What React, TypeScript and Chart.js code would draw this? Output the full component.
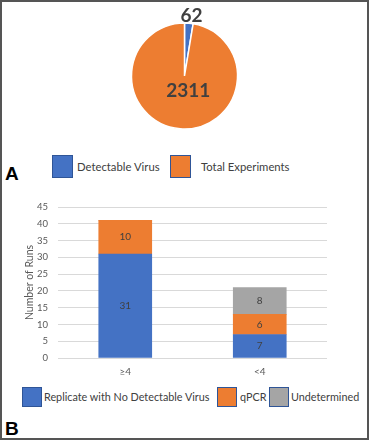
import React, { useEffect, useRef } from "react";
import { Chart, registerables } from "chart.js";

Chart.register(...registerables);

// ---- data ----
const pieLabels = ["Detectable Virus", "Total Experiments"];
const pieValues = [62, 2311];

const barCategories = ["≥4", "<4"];
const barSeriesNames = ["Replicate with No Detectable Virus", "qPCR", "Undetermined"];
const replicateValues = [31, 7];
const qpcrValues = [10, 6];
const undeterminedValues = [0, 8];
const yMin = 0;
const yMax = 45;
const yStep = 5;
const yTitle = "Number of Runs";
const panelLetters = ["A", "B"];

// ---- styles ----
const BLUE = "#4472C4";
const ORANGE = "#ED7D31";
const GRAY = "#A5A5A5";
const LEGEND_BORDER = "#2F5597";
const TEXT = "#404040";
const AXIS_TEXT = "#595959";
const FONT = "Lato, 'Open Sans', sans-serif";

const pieColors = [BLUE, ORANGE];
const barColors = [BLUE, ORANGE, GRAY];
const pieLegendLayout = [
  { box: 52, text: 77 },
  { box: 170, text: 201 },
];
const barLegendLayout = [
  { box: 22, text: 44 },
  { box: 217, text: 240 },
  { box: 269, text: 291 },
];

const pieLabelPlugin = {
  id: "pieValueLabels",
  afterDatasetsDraw(chart: any) {
    const meta = chart.getDatasetMeta(0);
    const ctx = chart.ctx;
    const radii = [60, 15];
    const dxs = [2, 5];
    ctx.save();
    ctx.font = `bold 19px ${FONT}`;
    ctx.fillStyle = TEXT;
    ctx.textAlign = "center";
    ctx.textBaseline = "middle";
    meta.data.forEach((arc: any, i: number) => {
      const p = arc.getProps(["x", "y", "startAngle", "endAngle"], true);
      const mid = (p.startAngle + p.endAngle) / 2;
      ctx.fillText(
        String(chart.data.datasets[0].data[i]),
        p.x + Math.cos(mid) * radii[i] + dxs[i],
        p.y + Math.sin(mid) * radii[i]
      );
    });
    ctx.restore();
  },
};

const barLabelPlugin = {
  id: "barValueLabels",
  afterDatasetsDraw(chart: any) {
    const ctx = chart.ctx;
    ctx.save();
    ctx.font = `10px ${FONT}`;
    ctx.fillStyle = TEXT;
    ctx.textAlign = "center";
    ctx.textBaseline = "middle";
    chart.data.datasets.forEach((ds: any, di: number) => {
      const meta = chart.getDatasetMeta(di);
      meta.data.forEach((bar: any, i: number) => {
        const v = ds.data[i];
        if (!v) return;
        const p = bar.getProps(["x", "y", "base"], true);
        ctx.fillText(String(v), p.x, (p.y + p.base) / 2);
      });
    });
    ctx.restore();
  },
};

function LegendRow({
  labels,
  colors,
  layout,
  top,
  boxW,
  boxH,
  fontSize,
}: {
  labels: string[];
  colors: string[];
  layout: { box: number; text: number }[];
  top: number;
  boxW: number;
  boxH: number;
  fontSize: number;
}) {
  return (
    <>
      {labels.map((l, i) => (
        <React.Fragment key={l}>
          <div
            style={{
              position: "absolute",
              left: layout[i].box,
              top,
              width: boxW,
              height: boxH,
              background: colors[i],
              border: `1px solid ${LEGEND_BORDER}`,
              boxSizing: "border-box",
            }}
          />
          <div
            style={{
              position: "absolute",
              left: layout[i].text,
              top,
              height: boxH,
              lineHeight: `${boxH}px`,
              fontFamily: FONT,
              fontSize,
              color: TEXT,
              whiteSpace: "nowrap",
            }}
          >
            {l}
          </div>
        </React.Fragment>
      ))}
    </>
  );
}

export default function App() {
  const pieRef = useRef<HTMLCanvasElement>(null);
  const barRef = useRef<HTMLCanvasElement>(null);

  useEffect(() => {
    const pie = new Chart(pieRef.current!, {
      type: "pie",
      data: {
        labels: pieLabels,
        datasets: [
          {
            data: pieValues,
            backgroundColor: pieColors,
            borderColor: "#FFFFFF",
            borderWidth: 1.5,
            radius: 53,
          } as any,
        ],
      },
      options: {
        animation: false,
        responsive: false,
        maintainAspectRatio: false,
        layout: { padding: { top: 2, bottom: 0, left: 0, right: 0 } },
        plugins: { legend: { display: false }, tooltip: { enabled: false } },
      },
      plugins: [pieLabelPlugin],
    });

    const bar = new Chart(barRef.current!, {
      type: "bar",
      data: {
        labels: barCategories,
        datasets: [
          { label: barSeriesNames[0], data: replicateValues, backgroundColor: BLUE, barThickness: 53 },
          { label: barSeriesNames[1], data: qpcrValues, backgroundColor: ORANGE, barThickness: 53 },
          { label: barSeriesNames[2], data: undeterminedValues, backgroundColor: GRAY, barThickness: 53 },
        ],
      },
      options: {
        animation: false,
        responsive: false,
        maintainAspectRatio: false,
        layout: { padding: { top: 17, right: 42, bottom: 0, left: 0 } },
        plugins: { legend: { display: false }, tooltip: { enabled: false } },
        scales: {
          x: {
            stacked: true,
            grid: { display: false, drawTicks: false },
            border: { display: false },
            ticks: { font: { family: FONT, size: 10 }, color: AXIS_TEXT, padding: 8 },
            afterFit: (s: any) => {
              s.height = 27;
            },
          },
          y: {
            stacked: true,
            min: yMin,
            max: yMax,
            ticks: { stepSize: yStep, font: { family: FONT, size: 9.5 }, color: AXIS_TEXT, padding: 10 },
            grid: { color: "#D9D9D9", drawTicks: false },
            border: { display: false },
            title: {
              display: true,
              text: yTitle,
              font: { family: FONT, size: 10.5 },
              color: AXIS_TEXT,
              padding: { top: 23, bottom: 0 },
            },
            afterFit: (s: any) => {
              s.width = 58;
            },
          },
        },
      },
      plugins: [barLabelPlugin],
    });

    return () => {
      pie.destroy();
      bar.destroy();
    };
  }, []);

  const letterStyle: React.CSSProperties = {
    position: "absolute",
    left: 3,
    fontFamily: "'Liberation Sans', Arial, sans-serif",
    fontWeight: "bold",
    fontSize: 19,
    lineHeight: "19px",
    color: "#000",
  };

  return (
    <div
      style={{
        position: "absolute",
        left: 0,
        top: 0,
        width: 369,
        height: 440,
        background: "#fff",
        border: "2px solid #555",
        boxSizing: "border-box",
        overflow: "hidden",
      }}
    >
      <canvas
        ref={pieRef}
        width={369}
        height={150}
        style={{ position: "absolute", left: -2, top: -2, width: 369, height: 150 }}
      />
      <LegendRow
        labels={pieLabels}
        colors={pieColors}
        layout={pieLegendLayout.map((p) => ({ box: p.box - 2, text: p.text - 2 }))}
        top={153}
        boxW={21}
        boxH={23}
        fontSize={11.3}
      />
      <div style={{ ...letterStyle, top: 161.5 }}>{panelLetters[0]}</div>
      <canvas
        ref={barRef}
        width={369}
        height={195}
        style={{ position: "absolute", left: -2, top: 188, width: 369, height: 195 }}
      />
      <LegendRow
        labels={barSeriesNames}
        colors={barColors}
        layout={barLegendLayout.map((p) => ({ box: p.box - 2, text: p.text - 2 }))}
        top={385}
        boxW={20}
        boxH={20}
        fontSize={10.8}
      />
      <div style={{ ...letterStyle, top: 416.5 }}>{panelLetters[1]}</div>
    </div>
  );
}
